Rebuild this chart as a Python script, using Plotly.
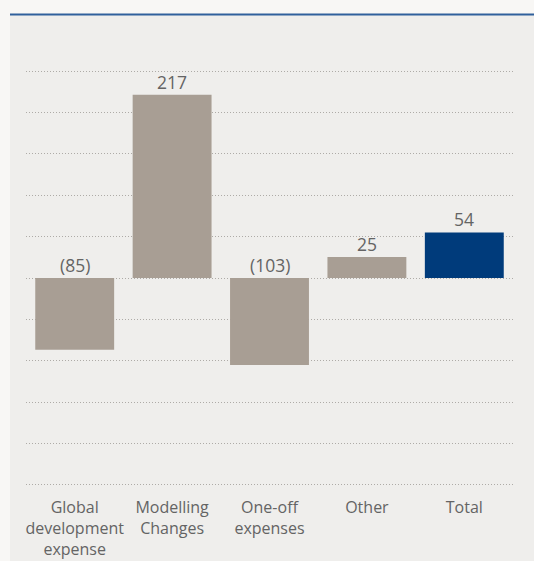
import plotly.graph_objects as go

FONT = "Open Sans"
TEXT_COL = "#646464"
BAR_GREY = "#a89e94"
BAR_BLUE = "#003b7b"
PANEL_BG = "#efeeec"
OUTER_BG = "#f8f7f5"
LINE_BLUE = "#30609c"

# ── Data ──────────────────────────────────────────────────────────────────────
categories = [
    "Global<br>development<br>expense",
    "Modelling<br>Changes",
    "One-off<br>expenses",
    "Other",
    "Total",
]
values = [-85, 217, -103, 25, 54]
bar_colors = [BAR_GREY, BAR_GREY, BAR_GREY, BAR_GREY, BAR_BLUE]


def fmt(v):
    return f"({abs(v)})" if v < 0 else f"{v}"


W, H = 534, 561
ML, MR, MT, MB = 26, 21, 67, 72
PW, PH = W - ML - MR, H - MT - MB


def px_x(p):  # pixel -> paper x
    return (p - ML) / PW


def px_y(p):  # pixel (from top) -> paper y
    return (H - MB - p) / PH


fig = go.Figure(go.Bar(
    x=categories,
    y=values,
    marker=dict(color=bar_colors, line=dict(width=0)),
    hoverinfo="skip",
))

# value labels sit above the zero line (negatives) or above the bar (positives)
for c, v in zip(categories, values):
    fig.add_annotation(
        x=c, y=max(v, 0), text=fmt(v), showarrow=False,
        yanchor="bottom", yshift=-1,
        font=dict(family=FONT, size=17.5, color=TEXT_COL),
    )

# panel background + blue rule on top, kept inside the page
fig.add_shape(type="rect", xref="paper", yref="paper",
              x0=px_x(10), x1=px_x(W), y0=px_y(H), y1=px_y(15),
              fillcolor=PANEL_BG, line=dict(width=0), layer="below")
fig.add_shape(type="line", xref="paper", yref="paper",
              x0=px_x(10), x1=px_x(W), y0=px_y(14.5), y1=px_y(14.5),
              line=dict(color=LINE_BLUE, width=2), layer="below")

fig.update_layout(
    width=W,
    height=H,
    paper_bgcolor=OUTER_BG,
    plot_bgcolor="rgba(0,0,0,0)",
    margin=dict(l=ML, r=MR, t=MT, b=MB),
    bargap=0.19,
    showlegend=False,
    font=dict(family=FONT, size=16, color=TEXT_COL),
    xaxis=dict(
        showgrid=False, zeroline=False, showline=False, automargin=False,
        ticks="outside", ticklen=4, tickcolor="rgba(0,0,0,0)",
        tickfont=dict(family=FONT, size=16, color=TEXT_COL),
        fixedrange=True,
    ),
    yaxis=dict(
        range=[-250, 250], tick0=0, dtick=49, automargin=False,
        showticklabels=False, zeroline=False, showline=False,
        showgrid=True, gridcolor="#aeaba7", gridwidth=1, griddash="1px,2px",
        fixedrange=True,
    ),
)

fig.write_html("out.html", config={"displayModeBar": False},
               post_script="document.body.style.margin='0';"
                           "document.body.style.overflow='hidden';")
